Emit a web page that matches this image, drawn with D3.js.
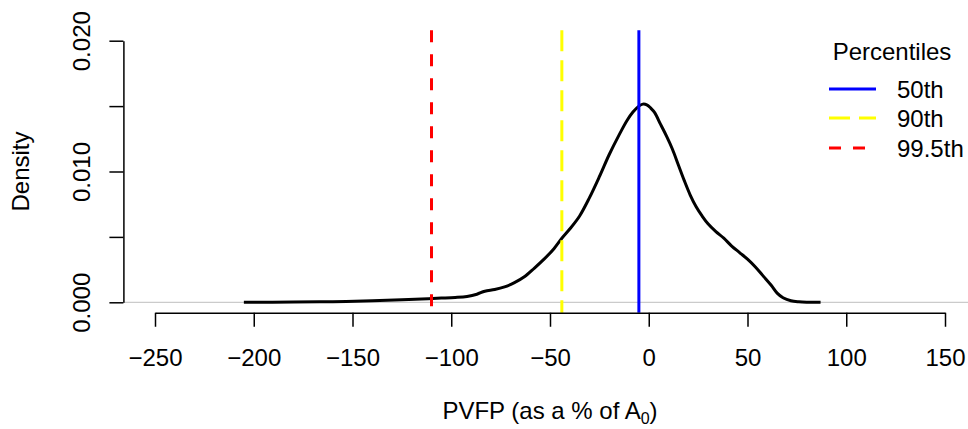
<!DOCTYPE html>
<html><head><meta charset="utf-8">
<script src="https://cdn.jsdelivr.net/npm/d3@7"></script>
<style>body{margin:0;background:#fff;} text{font-family:"Liberation Sans",Arial,sans-serif;}</style>
</head><body>
<svg id="c" width="968" height="429"></svg>
<script>
const pvfp = [-205,-180,-160,-140,-125,-115,-105,-98,-92,-87,-83,-78,-73,-68,-63,-58,-53,-48,-44,-40,-35,-30,-25,-20,-15,-11,-8,-5,-3,-1,1,3,6,9,12,15,18,21,24,27,30,34,38,42,46,50,54,58,62,65,68,72,76,80,87];
const density = [0,0.00002,0.00005,0.00012,0.0002,0.00026,0.00032,0.00037,0.00045,0.00062,0.00085,0.00098,0.00118,0.0015,0.00195,0.0026,0.0033,0.0041,0.0049,0.0056,0.0066,0.0080,0.0096,0.0113,0.0128,0.0139,0.01455,0.0150,0.01515,0.0151,0.01485,0.0145,0.0136,0.0127,0.0117,0.0105,0.0093,0.0082,0.0073,0.0066,0.0060,0.0054,0.0049,0.0043,0.0038,0.0033,0.0027,0.0020,0.0013,0.0007,0.00035,0.00012,0.00004,0.00001,0];
const xTicks = [-250,-200,-150,-100,-50,0,50,100,150];
const yTicks = [0,0.005,0.010,0.015,0.020];
const yLabels = ["0.000","","0.010","","0.020"];
const percentileNames = ["50th","90th","99.5th"];
const percentileValues = [-5,-44,-110];
const percentileColors = ["#0000ff","#ffff00","#ff0000"];
const percentileDash = ["none","21,9","12,12"];

const FS = 24;
const svg = d3.select("#c");
const x = d3.scaleLinear().domain([-250,150]).range([155,945]);
const y = d3.scaleLinear().domain([0,0.02]).range([302.3,40.7]);
const plotTop = y(0.0208), plotBottom = y(-0.0008);
const plotLeft = x(-266), plotRight = x(166);

// zero line
svg.append("line").attr("x1",plotLeft).attr("x2",plotRight).attr("y1",y(0)).attr("y2",y(0))
  .attr("stroke","#bebebe").attr("stroke-width",1);

// density curve
const line = d3.line().x((d,i)=>x(pvfp[i])).y((d,i)=>y(density[i])).curve(d3.curveCatmullRom.alpha(0.5));
svg.append("path").attr("d",line(pvfp)).attr("fill","none").attr("stroke","#000").attr("stroke-width",3).attr("stroke-linejoin","round");

// percentile lines
percentileValues.forEach((v,i)=>{
  svg.append("line").attr("x1",x(v)).attr("x2",x(v)).attr("y1",plotTop).attr("y2",plotBottom)
    .attr("stroke",percentileColors[i]).attr("stroke-width",3)
    .attr("stroke-dasharray",percentileDash[i]);
});

// x axis
const xa = svg.append("g").attr("transform",`translate(0,${plotBottom})`)
  .call(d3.axisBottom(x).tickValues(xTicks).tickSize(14).tickSizeOuter(0).tickPadding(8).tickFormat(d=>d<0?"\u2212"+Math.abs(d):d));
xa.select(".domain").attr("stroke","#000").attr("stroke-width",1.5);
xa.selectAll(".tick line").attr("stroke","#000").attr("stroke-width",1.5);
xa.selectAll(".tick text").attr("font-size",FS).attr("fill","#000").attr("dy",null).attr("y",null)
  .attr("transform",`translate(0,${366-plotBottom})`);

// y axis
const ya = svg.append("g").attr("transform",`translate(${plotLeft},0)`)
  .call(d3.axisLeft(y).tickValues(yTicks).tickSize(14).tickSizeOuter(0).tickFormat((d,i)=>yLabels[i]));
ya.select(".domain").attr("stroke","#000").attr("stroke-width",1.5);
ya.selectAll(".tick line").attr("stroke","#000").attr("stroke-width",1.5);
ya.selectAll(".tick text").attr("font-size",FS).attr("fill","#000")
  .attr("x",null).attr("dy",null).attr("text-anchor","middle")
  .attr("transform",`translate(${90-plotLeft},0) rotate(-90)`);

// axis titles
svg.append("text").attr("transform",`translate(29,${(plotTop+plotBottom)/2}) rotate(-90)`)
  .attr("text-anchor","middle").attr("font-size",FS).text("Density");
const xt = svg.append("text").attr("x",(plotLeft+plotRight)/2).attr("y",419).attr("text-anchor","middle").attr("font-size",FS);
xt.append("tspan").text("PVFP (as a % of A");
xt.append("tspan").attr("font-size",16).attr("dy",5).text("0");
xt.append("tspan").attr("dy",-5).text(")");

// legend
svg.append("text").attr("x",892).attr("y",60).attr("text-anchor","middle").attr("font-size",FS).text("Percentiles");
const rowY = [89,118,148];
percentileNames.forEach((n,i)=>{
  svg.append("line").attr("x1",829).attr("x2",876).attr("y1",rowY[i]).attr("y2",rowY[i])
    .attr("stroke",percentileColors[i]).attr("stroke-width",3).attr("stroke-dasharray",percentileDash[i]);
  svg.append("text").attr("x",897).attr("y",rowY[i]+8.5).attr("font-size",FS).text(n);
});
</script>
</body></html>
